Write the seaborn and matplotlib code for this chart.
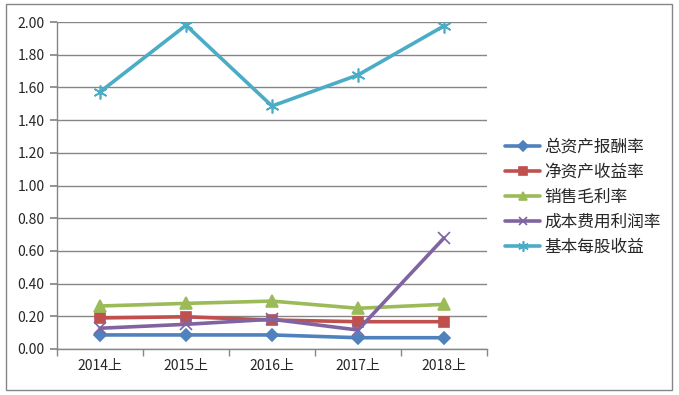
import numpy as np
import pandas as pd
import seaborn as sns
import matplotlib.pyplot as plt
from matplotlib.patches import Rectangle

sns.set_theme(style="white")
plt.rcParams["font.family"] = ["Noto Sans CJK SC", "DejaVu Sans"]

periods = ["2014上", "2015上", "2016上", "2017上", "2018上"]
series_names = ["总资产报酬率", "净资产收益率", "销售毛利率", "成本费用利润率", "基本每股收益"]
roa = [0.086, 0.086, 0.086, 0.069, 0.069]
roe = [0.190, 0.197, 0.177, 0.167, 0.167]
gross_margin = [0.263, 0.279, 0.293, 0.249, 0.273]
cost_profit = [0.127, 0.151, 0.182, 0.116, 0.679]
eps = [1.572, 1.980, 1.486, 1.676, 1.976]

colors = ["#4F81BD", "#C0504D", "#9BBB59", "#8064A2", "#4BACC6"]
marker_list = ["D", "s", "^", "x", (6, 2, 0)]
marker_sizes = [6.5, 7.5, 8, 8, 10]

fig = plt.figure(figsize=(6.79, 3.95), dpi=100)
ax = fig.add_axes([57 / 679, 1 - 349 / 395, 430 / 679, 327 / 395])

for name, vals, c, m, ms in zip(series_names, [roa, roe, gross_margin, cost_profit, eps],
                                colors, marker_list, marker_sizes):
    sub = pd.DataFrame({"period": periods, "value": vals})
    sns.lineplot(data=sub, x="period", y="value", color=c, marker=m, markersize=ms,
                 markeredgecolor=c, markerfacecolor=c, markeredgewidth=1.2,
                 linewidth=2.6, ax=ax, sort=False, label=name)

ax.set_xlim(-0.5, 4.5)
ax.set_ylim(0, 2.0)
ax.set_yticks(np.arange(0, 2.01, 0.2))
ax.set_yticklabels([f"{v:.2f}" for v in np.arange(0, 2.01, 0.2)], fontsize=10)
ax.set_xticks(range(5))
ax.set_xticklabels(periods, fontsize=10)
ax.set_xticks(np.arange(-0.5, 4.6, 1), minor=True)
ax.tick_params(axis="x", which="major", length=0, pad=7)
ax.tick_params(axis="x", which="minor", length=5, color="#868686", direction="out", bottom=True)
ax.tick_params(axis="y", length=5, color="#868686", direction="out", left=True, pad=4)
ax.set_xlabel("")
ax.set_ylabel("")
ax.grid(axis="y", color="#868686", linewidth=1)
ax.set_axisbelow(True)
for side in ["top", "right"]:
    ax.spines[side].set_visible(False)
for side in ["left", "bottom"]:
    ax.spines[side].set_color("#868686")
    ax.spines[side].set_linewidth(1)

ax.legend(handles=ax.lines, labels=series_names, loc="center left",
          bbox_to_anchor=(490 / 679, 1 - 197 / 395), bbox_transform=fig.transFigure,
          frameon=False, fontsize=12, handlelength=2.1, labelspacing=0.48,
          handletextpad=0.25, markerscale=0.75)

fig.patches.append(Rectangle((6 / 679, 5 / 395), 666 / 679, 386 / 395, transform=fig.transFigure,
                             fill=False, edgecolor="#868686", linewidth=1))

fig.savefig("out.png", dpi=100)
